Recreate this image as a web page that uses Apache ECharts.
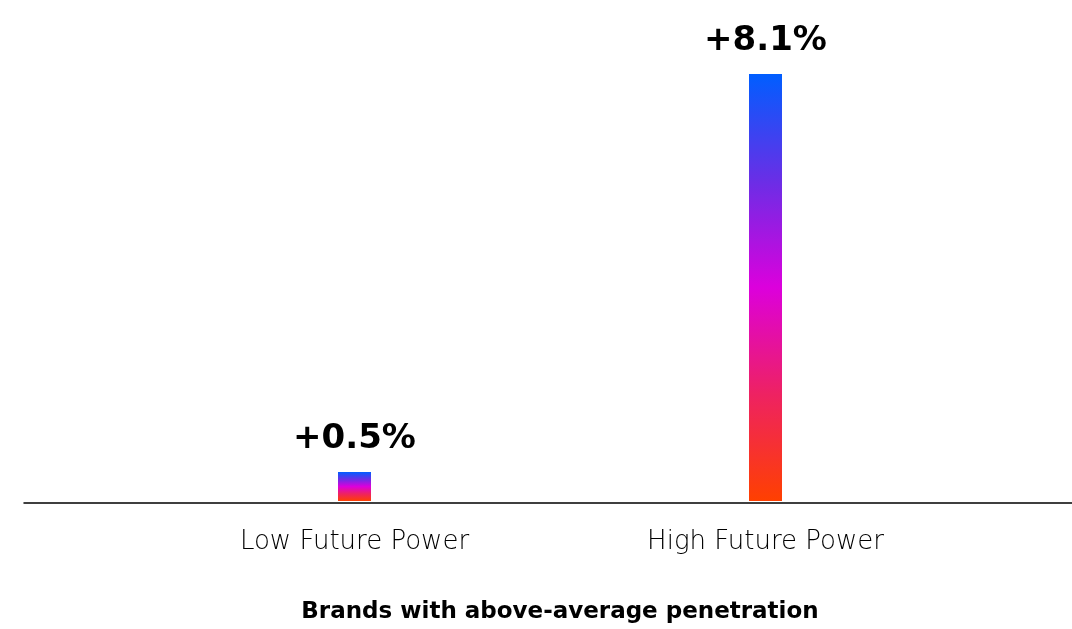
<!DOCTYPE html>
<html>
<head>
<meta charset="utf-8">
<script src="https://cdn.jsdelivr.net/npm/echarts@6/dist/echarts.min.js"></script>
<style>
html,body{margin:0;padding:0;background:#fff;}
#chart{width:1072px;height:629px;}
</style>
</head>
<body>
<div id="chart"></div>
<script>
const categories = ['Low Future Power', 'High Future Power'];
const values = [0.5, 8.1];
const valueLabels = ['+0.5%', '+8.1%'];
const axisTitle = 'Brands with above-average penetration';

const gradient = new echarts.graphic.LinearGradient(0, 0, 0, 1, [
  {offset: 0, color: '#005eff'},
  {offset: 0.25, color: '#6a2ee6'},
  {offset: 0.5, color: '#dc00dc'},
  {offset: 0.75, color: '#ee2262'},
  {offset: 1, color: '#ff4000'}
]);

const chart = echarts.init(document.getElementById('chart'));
chart.setOption({
  animation: false,
  grid: [
    {left: 149, right: 101, top: 74, bottom: 126},
    {left: 24, right: 0, top: 74, bottom: 126}
  ],
  xAxis: [
    {
      type: 'category', gridIndex: 0, data: categories,
      axisLine: {show: false}, axisTick: {show: false},
      axisLabel: {margin: 28, fontFamily: 'DejaVu Sans', fontWeight: 200, fontSize: 26, color: '#000'},
      name: axisTitle, nameLocation: 'middle', nameGap: 100,
      nameTextStyle: {fontFamily: 'DejaVu Sans', fontWeight: 'bold', fontSize: 23, color: '#000'}
    },
    {
      type: 'category', gridIndex: 1, data: [],
      axisLine: {show: true, lineStyle: {color: '#000', width: 1.5}},
      axisTick: {show: false}, axisLabel: {show: false}
    }
  ],
  yAxis: [
    {type: 'value', gridIndex: 0, min: 0, max: 8.1, show: false},
    {type: 'value', gridIndex: 1, min: 0, max: 8.1, show: false}
  ],
  series: [{
    type: 'bar', xAxisIndex: 0, yAxisIndex: 0,
    data: values, barWidth: 33, barMinHeight: 29,
    itemStyle: {color: gradient},
    label: {
      show: true, position: 'top', distance: 16,
      formatter: p => valueLabels[p.dataIndex],
      fontFamily: 'DejaVu Sans', fontWeight: 'bold', fontSize: 34, color: '#000'
    }
  }]
});
</script>
</body>
</html>
